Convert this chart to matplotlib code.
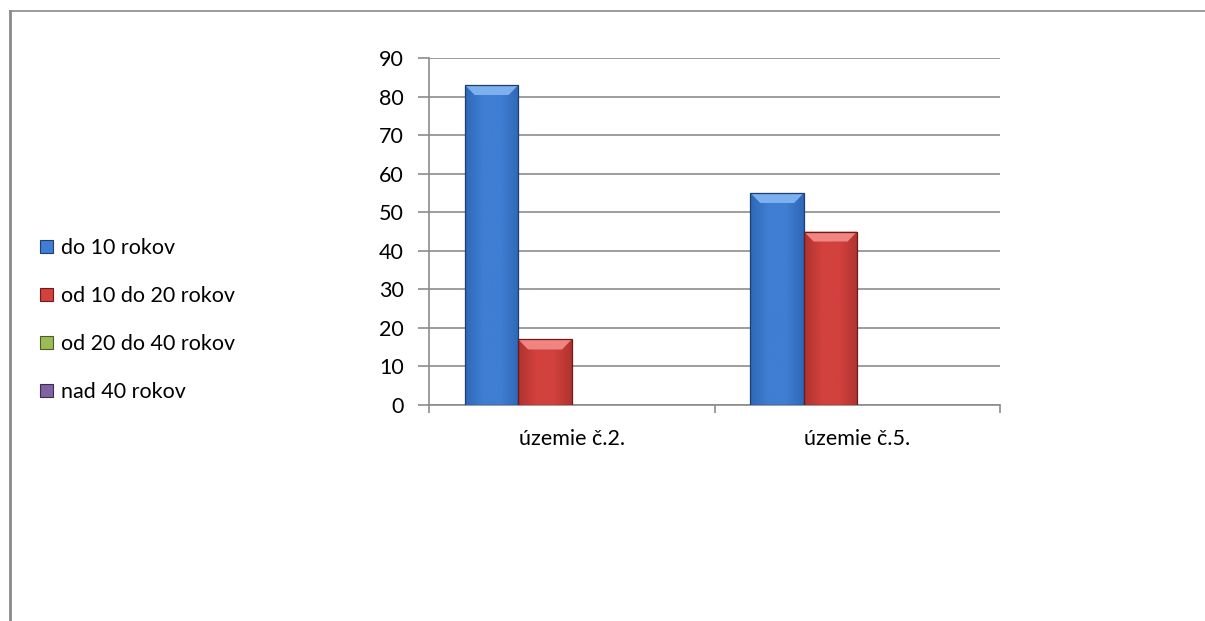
import matplotlib
matplotlib.use("Agg")
import matplotlib.pyplot as plt
import numpy as np
from matplotlib.patches import Rectangle, Polygon
from matplotlib.lines import Line2D
from matplotlib.colors import LinearSegmentedColormap

categories = ["územie č.2.", "územie č.5."]
series_names = ["do 10 rokov", "od 10 do 20 rokov", "od 20 do 40 rokov", "nad 40 rokov"]
do_10 = [83, 55]
od_10_do_20 = [17, 45]
od_20_do_40 = [0, 0]
nad_40 = [0, 0]
series_values = [do_10, od_10_do_20, od_20_do_40, nad_40]
y_ticks = [0, 10, 20, 30, 40, 50, 60, 70, 80, 90]

face_colors = ["#3F7ED2", "#D2413D", "#9BBB59", "#8064A2"]
dark_colors = ["#2F68B8", "#B0332F", "#6E8A35", "#5B4580"]
edge_colors = ["#1C3F70", "#6E1A18", "#4A5E22", "#3C2A58"]
light_colors = ["#7DB0EE", "#F08480", "#C4DC8A", "#AC93CC"]

plt.rcParams["font.family"] = ["Lato", "DejaVu Sans"]
FS = 15.5

fig = plt.figure(figsize=(12.05, 6.21), dpi=100)
ax = fig.add_axes([429 / 1205, 1 - 405 / 621, (1000 - 429) / 1205, (405 - 58) / 621])
ax.set_xlim(-0.5, 1.5)
ax.set_ylim(0, 90)

bar_w = 0.187
bevel_x = 0.034
bevel_y = 2.6
x = np.arange(len(categories))
for k, vals in enumerate(series_values):
    fc, dc, ec, lc = face_colors[k], dark_colors[k], edge_colors[k], light_colors[k]
    cmap = LinearSegmentedColormap.from_list(f"s{k}", [dc, fc, fc, dc])
    grad = np.linspace(0, 1, 64).reshape(1, -1)
    pos = x + (k - 1.5) * bar_w
    bars = ax.bar(pos, vals, width=bar_w, color=fc, edgecolor="none", zorder=3)
    for b in bars:
        h = b.get_height()
        if h <= 0:
            continue
        x0, w = b.get_x(), b.get_width()
        # horizontal shading across the bar
        im = ax.imshow(grad, cmap=cmap, aspect="auto", extent=(x0, x0 + w, 0, h),
                       zorder=3.5, interpolation="bicubic")
        im.set_clip_path(b)
        # bevelled top face
        by = min(bevel_y, h * 0.4)
        ax.add_patch(Polygon([(x0, h), (x0 + w, h), (x0 + w - bevel_x, h - by),
                              (x0 + bevel_x, h - by)], closed=True,
                             facecolor=lc, edgecolor="none", zorder=4))
        ax.add_patch(Rectangle((x0, 0), w, h, facecolor="none",
                               edgecolor=ec, linewidth=0.9, zorder=5))

ax.set_xlim(-0.5, 1.5)
ax.set_ylim(0, 90)
ax.set_yticks(y_ticks)
ax.set_yticklabels([str(v) for v in y_ticks], fontsize=FS)
ax.yaxis.grid(True, color="#8C8C8C", linewidth=1.2, zorder=0)
ax.set_axisbelow(True)

ax.set_xticks([-0.5, 0.5, 1.5])
ax.set_xticklabels([])
ax.set_xticks(x, minor=True)
ax.set_xticklabels(categories, minor=True, fontsize=FS)
ax.tick_params(axis="x", which="minor", length=0, pad=17)
ax.tick_params(axis="x", which="major", length=6, color="#8C8C8C", width=1.2)
ax.tick_params(axis="y", length=8, color="#8C8C8C", width=1.2, pad=10)

for side in ["top", "right"]:
    ax.spines[side].set_visible(False)
for side in ["left", "bottom"]:
    ax.spines[side].set_color("#8C8C8C")
    ax.spines[side].set_linewidth(1.2)

handles = [Rectangle((0, 0), 1, 1, facecolor=fc, edgecolor=ec, linewidth=0.8)
           for fc, ec in zip(face_colors, edge_colors)]
fig.legend(handles, series_names, loc="center left",
           bbox_to_anchor=(40 / 1205, 1 - 320 / 621), frameon=False,
           borderpad=0, borderaxespad=0,
           fontsize=FS, handlelength=0.6, handleheight=0.6,
           handletextpad=0.36, labelspacing=1.3)

# outer frame: left and top edges
fig.add_artist(Line2D([10 / 1205, 10 / 1205], [0, 1 - 11 / 621],
                      transform=fig.transFigure, color="#8A8A8A", linewidth=2))
fig.add_artist(Line2D([10 / 1205, 1], [1 - 11 / 621, 1 - 11 / 621],
                      transform=fig.transFigure, color="#8A8A8A", linewidth=1.2))

fig.savefig("out.png", dpi=100)
